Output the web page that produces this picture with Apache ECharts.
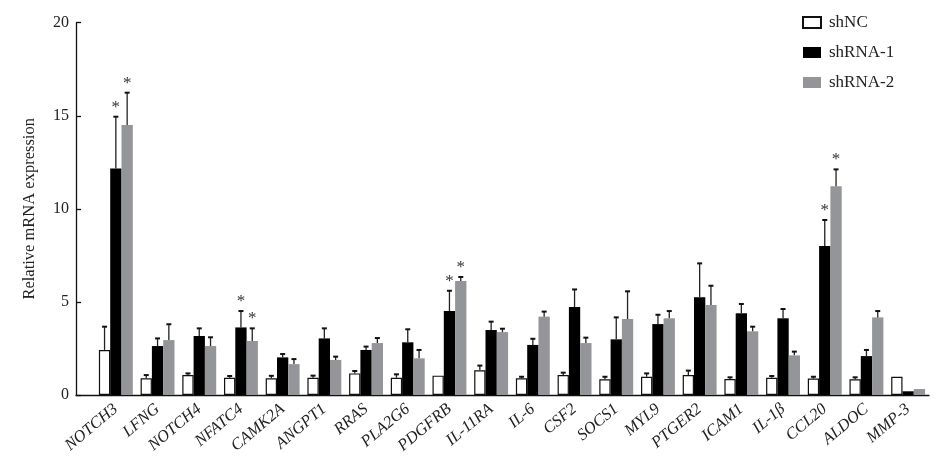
<!DOCTYPE html>
<html>
<head>
<meta charset="utf-8">
<script src="https://cdn.jsdelivr.net/npm/echarts@6/dist/echarts.min.js"></script>
<style>
  html, body { margin: 0; padding: 0; background: #fff; }
  #main { width: 944px; height: 462px; }
</style>
</head>
<body>
<div id="main"></div>
<script>
// 基因名称
var genes = ['NOTCH3', 'LFNG', 'NOTCH4', 'NFATC4', 'CAMK2A', 'ANGPT1', 'RRAS', 'PLA2G6', 'PDGFRB', 'IL-11RA',
  'IL-6', 'CSF2', 'SOCS1', 'MYL9', 'PTGER2', 'ICAM1', 'IL-1β', 'CCL20', 'ALDOC', 'MMP-3'];

// 各组均值与误差
var shNC = [2.42, 0.90, 1.07, 0.93, 0.90, 0.93, 1.16, 0.93, 1.04, 1.33, 0.90, 1.07, 0.84, 0.98, 1.07, 0.86, 0.93, 0.88, 0.84, 0.98];
var shNCSd = [1.25, 0.17, 0.09, 0.09, 0.13, 0.11, 0.13, 0.18, 0, 0.25, 0.08, 0.13, 0.14, 0.18, 0.24, 0.09, 0.09, 0.10, 0.11, 0];
var shRNA1 = [12.17, 2.63, 3.17, 3.63, 2.02, 3.04, 2.42, 2.83, 4.51, 3.49, 2.69, 4.73, 2.99, 3.81, 5.25, 4.39, 4.12, 8.00, 2.09, 0.20];
var shRNA1Sd = [2.78, 0.41, 0.41, 0.88, 0.18, 0.54, 0.18, 0.70, 1.09, 0.45, 0.33, 0.94, 1.18, 0.50, 1.82, 0.50, 0.50, 1.40, 0.33, 0];
var shRNA2 = [14.50, 2.95, 2.63, 2.90, 1.66, 1.88, 2.79, 1.97, 6.12, 3.38, 4.21, 2.79, 4.08, 4.12, 4.83, 3.42, 2.13, 11.22, 4.17, 0.32];
var shRNA2Sd = [1.74, 0.85, 0.47, 0.68, 0.27, 0.18, 0.27, 0.45, 0.22, 0.18, 0.27, 0.29, 1.49, 0.39, 1.04, 0.25, 0.20, 0.90, 0.34, 0];
// 显著性标记 (*)
var sig1 = [1, 0, 0, 1, 0, 0, 0, 0, 1, 0, 0, 0, 0, 0, 0, 0, 0, 1, 0, 0];
var sig2 = [1, 0, 0, 1, 0, 0, 0, 0, 1, 0, 0, 0, 0, 0, 0, 0, 0, 1, 0, 0];
var yTicks = [0, 5, 10, 15, 20];

var FONT = "'Liberation Serif', 'Times New Roman', serif";
var BAR_W = 11.3;
var GREY = '#939598';

function errData(vals, sds, sig) {
  return vals.map(function (v, i) { return [i, v, sds[i], sig[i] || 0]; });
}

function errRender(offset) {
  return function (params, api) {
    var idx = api.value(0), v = api.value(1), sd = api.value(2), s = api.value(3);
    var base = api.coord([idx, v]);
    var top = api.coord([idx, v + sd]);
    var x = base[0] + offset;
    var children = [];
    if (sd > 0) {
      children.push({ type: 'line', shape: { x1: x, y1: base[1], x2: x, y2: top[1] }, style: { stroke: '#222', lineWidth: 1.3 } });
      children.push({ type: 'line', shape: { x1: x - 2.5, y1: top[1], x2: x + 2.5, y2: top[1] }, style: { stroke: '#111', lineWidth: 2 } });
    }
    if (s) {
      children.push({ type: 'text', style: { x: x, y: top[1] - 1, text: '*', fill: '#333', font: '17px ' + FONT, textAlign: 'center', textVerticalAlign: 'bottom' } });
    }
    return { type: 'group', children: children };
  };
}

var chart = echarts.init(document.getElementById('main'));
var option = {
  animation: false,
  textStyle: { fontFamily: FONT },
  grid: [
    { left: 95, right: 15, top: 22.7, bottom: 67 },
    { left: 76, right: 15, top: 22.7, bottom: 67 }
  ],
  legend: {
    data: ['shNC', 'shRNA-1', 'shRNA-2'],
    orient: 'vertical',
    left: 802,
    top: 14,
    padding: 0,
    itemWidth: 18,
    itemHeight: 11,
    itemGap: 13,
    icon: 'rect',
    textStyle: { fontFamily: FONT, fontSize: 17, color: '#222', padding: [0, 0, 0, 3] }
  },
  xAxis: [
    {
      type: 'category', gridIndex: 0, data: genes,
      axisLine: { show: false }, axisTick: { show: false },
      axisLabel: { interval: 0, rotate: 40, margin: 12, fontFamily: FONT, fontStyle: 'italic', fontSize: 16.5, color: '#222' }
    },
    {
      type: 'value', gridIndex: 1, min: 0, max: 1,
      axisLine: { show: true, lineStyle: { color: '#111', width: 1.3 } },
      axisTick: { show: false }, axisLabel: { show: false }, splitLine: { show: false }
    }
  ],
  yAxis: [
    { type: 'value', gridIndex: 0, min: 0, max: 20, interval: 5, show: false },
    {
      type: 'value', gridIndex: 1, min: yTicks[0], max: yTicks[yTicks.length - 1], interval: 5,
      name: 'Relative mRNA expression', nameLocation: 'middle', nameGap: 38,
      nameTextStyle: { fontFamily: FONT, fontSize: 16.5, color: '#222' },
      axisLine: { show: true, lineStyle: { color: '#111', width: 1.3 } },
      axisTick: { show: true, inside: true, length: 5, lineStyle: { color: '#111', width: 1.3 } },
      axisLabel: { margin: 7, fontFamily: FONT, fontSize: 16, color: '#222' },
      splitLine: { show: false }
    }
  ],
  series: [
    { name: 'shNC', type: 'bar', xAxisIndex: 0, yAxisIndex: 0, data: shNC, barWidth: BAR_W, barGap: '0%',
      itemStyle: { color: '#fff', borderColor: '#111', borderWidth: 1.2 } },
    { name: 'shRNA-1', type: 'bar', xAxisIndex: 0, yAxisIndex: 0, data: shRNA1, barWidth: BAR_W, barGap: '0%',
      itemStyle: { color: '#000' } },
    { name: 'shRNA-2', type: 'bar', xAxisIndex: 0, yAxisIndex: 0, data: shRNA2, barWidth: BAR_W, barGap: '0%',
      itemStyle: { color: GREY } },
    { type: 'custom', xAxisIndex: 0, yAxisIndex: 0, z: 5, renderItem: errRender(-BAR_W), data: errData(shNC, shNCSd, []) },
    { type: 'custom', xAxisIndex: 0, yAxisIndex: 0, z: 5, renderItem: errRender(0), data: errData(shRNA1, shRNA1Sd, sig1) },
    { type: 'custom', xAxisIndex: 0, yAxisIndex: 0, z: 5, renderItem: errRender(BAR_W), data: errData(shRNA2, shRNA2Sd, sig2) }
  ]
};
chart.setOption(option);
</script>
</body>
</html>
